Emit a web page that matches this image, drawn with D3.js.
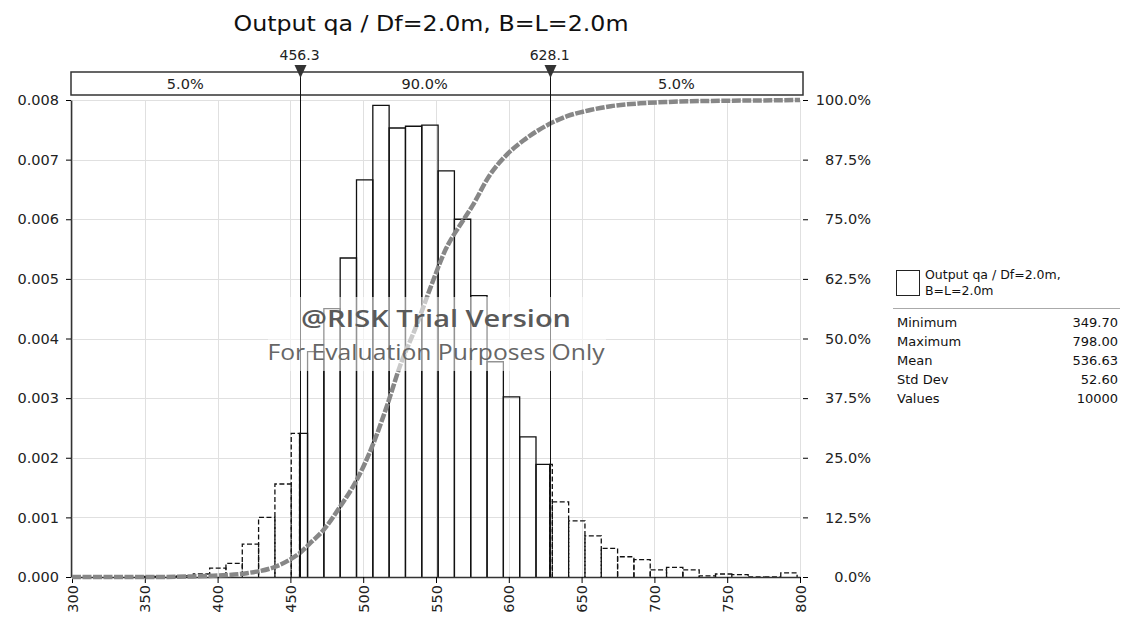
<!DOCTYPE html>
<html><head><meta charset="utf-8">
<script src="https://cdn.jsdelivr.net/npm/d3@7"></script>
<style>body{margin:0;background:#fff;} svg{display:block;font-family:"DejaVu Sans",sans-serif;}</style>
</head><body><svg id="c" width="1121" height="619"></svg>
<script>
const title = "Output qa / Df=2.0m, B=L=2.0m";
const binEdges = [349.70,360.91,372.12,383.32,394.53,405.74,416.95,428.15,439.36,450.57,461.78,472.98,484.19,495.40,506.61,517.81,529.02,540.23,551.44,562.64,573.85,585.06,596.27,607.47,618.68,629.89,641.10,652.30,663.51,674.72,685.93,697.13,708.34,719.55,730.76,741.96,753.17,764.38,775.59,786.79,798.00];
const density = [0.00001,0.00001,0.00002,0.00005,0.00015,0.00023,0.00055,0.00100,0.00156,0.00241,
 0.00378,0.00450,0.00535,0.00666,0.00791,0.00753,0.00756,0.00758,0.00681,0.00600,
 0.00472,0.00361,0.00302,0.00235,0.00189,0.00126,0.00094,0.00069,0.00048,0.00034,
 0.00029,0.00012,0.00016,0.00012,0.00002,0.00005,0.00004,0.00000,0.00000,0.00007];
const cdfX = [300,350,380,400,420,440,450,456.3,465,472.6,484,495.5,507,517,525,536.7,546,557,567,575,587,598.5,610,628.1,640,656,670,690,710,736,770,800];
const cdfP = [0,0,0.001,0.003,0.008,0.022,0.037,0.05,0.075,0.098,0.147,0.203,0.28,0.365,0.44,0.528,0.605,0.689,0.74,0.778,0.843,0.885,0.915,0.95,0.966,0.979,0.987,0.993,0.996,0.998,0.999,1.0];
const xTicks = [300,350,400,450,500,550,600,650,700,750,800];
const yTicks = [0,0.001,0.002,0.003,0.004,0.005,0.006,0.007,0.008];
const pctTicks = [0,0.125,0.25,0.375,0.5,0.625,0.75,0.875,1];
const markers = [456.3, 628.1];
const bandLabels = ["5.0%","90.0%","5.0%"];
const legendLines = ["Output qa / Df=2.0m,","B=L=2.0m"];
const statNames = ["Minimum","Maximum","Mean","Std Dev","Values"];
const statValues = ["349.70","798.00","536.63","52.60","10000"];
const watermark = ["@RISK Trial Version","For Evaluation Purposes Only"];

const svg = d3.select("#c");
const x = d3.scaleLinear().domain([300,800]).range([72,800]);
const y = d3.scaleLinear().domain([0,0.008]).range([577,100]);
const yp = d3.scaleLinear().domain([0,1]).range([577,100]);
const FS = 14.5;

// title
svg.append("text").attr("x",431).attr("y",31).attr("text-anchor","middle")
  .attr("font-size",22).attr("fill","#111").attr("textLength",395).attr("lengthAdjust","spacingAndGlyphs").text(title);

// grid
const grid = svg.append("g").attr("stroke","#e0e0e0").attr("stroke-width",1);
grid.selectAll("line.v").data(xTicks).join("line").attr("class","v")
  .attr("x1",d=>Math.round(x(d))+0.5).attr("x2",d=>Math.round(x(d))+0.5).attr("y1",y(0.008)).attr("y2",y(0));
grid.selectAll("line.h").data(yTicks).join("line").attr("class","h")
  .attr("y1",d=>Math.round(y(d))+0.5).attr("y2",d=>Math.round(y(d))+0.5).attr("x1",x(300)).attr("x2",x(800));

// bars (split at markers)
const pieces = [];
density.forEach((h,i)=>{
  let a = binEdges[i], b = binEdges[i+1];
  const cuts = [a, ...markers.filter(m=>m>a && m<b), b];
  for (let j=0;j<cuts.length-1;j++){
    const mid = (cuts[j]+cuts[j+1])/2;
    pieces.push({a:cuts[j], b:cuts[j+1], h, inside: mid>markers[0] && mid<markers[1]});
  }
});
svg.append("g").selectAll("path").data(pieces).join("path")
  .attr("d",d=>`M${x(d.a)},${y(0)}V${y(d.h)}H${x(d.b)}V${y(0)}`)
  .attr("fill","none").attr("stroke","#111").attr("stroke-width",1.3)
  .attr("stroke-dasharray",d=>d.inside?null:"5,2.5");

// axes
const ax = svg.append("g");
const left = d3.axisLeft(y).tickValues(yTicks).tickFormat(d3.format(".3f")).tickSize(5).tickSizeOuter(0);
const gl = ax.append("g").attr("transform","translate(71,0)").call(left);
gl.select(".domain").attr("stroke","#333").attr("stroke-width",1.5);
gl.selectAll("text").attr("x",-12).attr("fill","#222").attr("font-family","DejaVu Sans").attr("font-size",FS);

const bottom = d3.axisBottom(x).tickValues(xTicks).tickFormat(d3.format("d")).tickSize(6).tickSizeOuter(0);
const gb = ax.append("g").attr("transform","translate(0,577)").call(bottom);
gb.select(".domain").attr("stroke","#333").attr("stroke-width",1.5);
gb.selectAll("text").attr("transform","rotate(-90)").attr("x",-8).attr("y",0).attr("dy","0.35em")
  .attr("text-anchor","end").attr("fill","#222").attr("font-family","DejaVu Sans").attr("font-size",FS);

const right = d3.axisRight(yp).tickValues(pctTicks).tickFormat(d3.format(".1%")).tickSize(5).tickSizeOuter(0);
const gr = ax.append("g").attr("transform","translate(803,0)").call(right);
gr.select(".domain").remove();
gr.selectAll("text").attr("x",68).attr("text-anchor","end").attr("fill","#222").attr("font-family","DejaVu Sans").attr("font-size",FS);

// cumulative curve
const cdf = cdfX.map((v,i)=>[v,cdfP[i]]);
svg.append("path").datum(cdf)
  .attr("d",d3.line().x(d=>x(d[0])).y(d=>yp(d[1])).curve(d3.curveMonotoneX))
  .attr("fill","none").attr("stroke","#878787").attr("stroke-width",4.5).attr("stroke-dasharray","9,1.5");

// delimiter box
const bx0 = 71, bx1 = 803;
svg.append("rect").attr("x",bx0).attr("y",72).attr("width",bx1-bx0).attr("height",23)
  .attr("fill","#fff").attr("stroke","#333").attr("stroke-width",1.5);
const bounds = [bx0, x(markers[0]), x(markers[1]), bx1];
svg.append("g").selectAll("text").data(bandLabels).join("text")
  .attr("x",(d,i)=>(bounds[i]+bounds[i+1])/2).attr("y",89).attr("text-anchor","middle")
  .attr("font-size",FS).attr("fill","#222").text(d=>d);

// marker lines, triangles, labels
const mg = svg.append("g");
mg.selectAll("line").data(markers).join("line")
  .attr("x1",d=>Math.round(x(d))+0.5).attr("x2",d=>Math.round(x(d))+0.5).attr("y1",70).attr("y2",y(0))
  .attr("stroke","#111").attr("stroke-width",1);
mg.selectAll("path").data(markers).join("path")
  .attr("d",d=>{const c=Math.round(x(d))+0.5;return `M${c-6},65L${c+6},65L${c},78Z`;})
  .attr("fill","#333");
mg.selectAll("text").data(markers).join("text")
  .attr("x",d=>x(d)).attr("y",60).attr("text-anchor","middle").attr("font-size",14).attr("fill","#222")
  .text(d=>d3.format(".1f")(d));

// watermark
svg.append("rect").attr("x",268).attr("y",297).attr("width",338).attr("height",74)
  .attr("fill","#fff").attr("opacity",0.55);
svg.append("text").attr("x",436).attr("y",327).attr("text-anchor","middle").attr("font-size",23)
  .attr("font-family","Open Sans").attr("font-weight",600).attr("fill","#5a5a5a")
  .attr("textLength",270).attr("lengthAdjust","spacingAndGlyphs").text(watermark[0]);
svg.append("text").attr("x",436).attr("y",360).attr("text-anchor","middle").attr("font-size",21)
  .attr("font-family","Open Sans").attr("fill","#666")
  .attr("textLength",337).attr("lengthAdjust","spacingAndGlyphs").text(watermark[1]);

// legend
const lg = svg.append("g").attr("font-size",13).attr("fill","#111");
lg.append("rect").attr("x",896.5).attr("y",270.5).attr("width",23).attr("height",25)
  .attr("fill","#fff").attr("stroke","#222").attr("stroke-width",1);
lg.selectAll("text.l").data(legendLines).join("text").attr("class","l")
  .attr("x",925).attr("y",(d,i)=>279+i*16).attr("font-size",12.5).text(d=>d);
lg.append("line").attr("x1",893).attr("x2",1120).attr("y1",308.5).attr("y2",308.5).attr("stroke","#aaa");
lg.selectAll("text.n").data(statNames).join("text").attr("class","n")
  .attr("x",897).attr("y",(d,i)=>327+i*19).text(d=>d);
lg.selectAll("text.v").data(statValues).join("text").attr("class","v")
  .attr("x",1118).attr("y",(d,i)=>327+i*19).attr("text-anchor","end").text(d=>d);
</script></body></html>
